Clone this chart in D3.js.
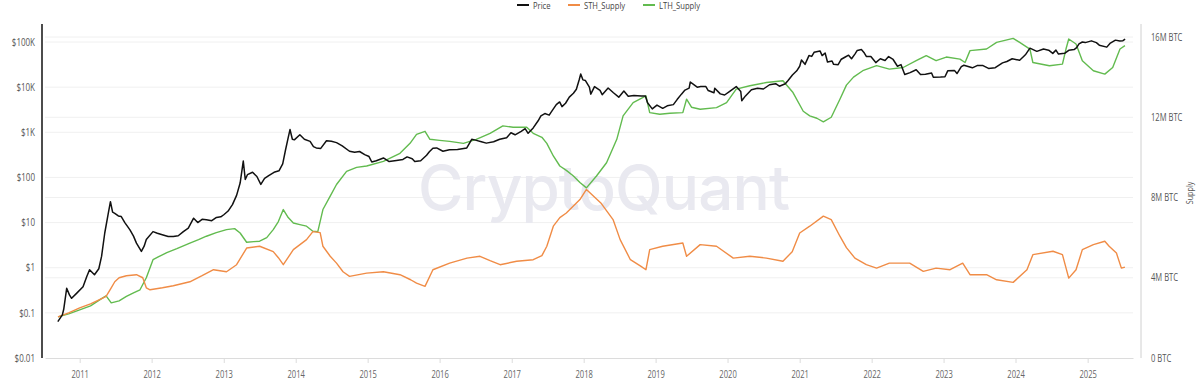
<!DOCTYPE html>
<html>
<head>
<meta charset="utf-8">
<script src="https://cdn.jsdelivr.net/npm/d3@7"></script>
<style>
  html, body { margin: 0; padding: 0; background: #fff; }
  svg { display: block; font-family: "Open Sans", "Noto Sans", sans-serif; }
</style>
</head>
<body>
<div id="chart"></div>
<script>
// --- data (price in USD, supply in millions of BTC) ---
const seriesNames = ["Price", "STH_Supply", "LTH_Supply"];
const seriesColors = ["#111111", "#f08c46", "#62bb4f"];

const yearTicks = [2011, 2012, 2013, 2014, 2015, 2016, 2017, 2018, 2019, 2020, 2021, 2022, 2023, 2024, 2025];
const priceTicks = [0.01, 0.1, 1, 10, 100, 1000, 10000, 100000];
const priceTickLabels = ["$0.01", "$0.1", "$1", "$10", "$100", "$1K", "$10K", "$100K"];
const supplyTicks = [0, 4, 8, 12, 16];
const supplyTickLabels = ["0 BTC", "4M BTC", "8M BTC", "12M BTC", "16M BTC"];

const price = [
  ["2010-09-12",0.064],["2010-10-05",0.09],["2010-10-12",0.12],["2010-10-27",0.35],["2010-11-10",0.25],
  ["2010-11-21",0.21],["2010-12-16",0.27],["2011-01-18",0.38],["2011-02-06",0.64],["2011-02-20",0.9],
  ["2011-03-17",0.7],["2011-04-08",0.95],["2011-04-22",1.78],["2011-05-08",5.8],["2011-05-26",16],
  ["2011-06-06",29],["2011-06-17",17],["2011-06-28",16],["2011-07-16",14],["2011-07-31",13.6],
  ["2011-08-18",10],["2011-09-13",6.9],["2011-10-01",5],["2011-10-16",3.5],["2011-11-10",2.3],
  ["2011-11-24",3],["2011-12-05",4.2],["2012-01-08",6.3],["2012-01-30",5.8],["2012-02-28",5.3],
  ["2012-03-25",4.9],["2012-04-20",4.9],["2012-05-15",5.1],["2012-06-10",6.3],["2012-07-05",7.5],
  ["2012-08-01",12.5],["2012-08-22",10],["2012-09-13",11.8],["2012-10-05",11.5],["2012-11-01",11],
  ["2012-11-25",13],["2012-12-17",13.4],["2013-01-01",14.9],["2013-01-23",18],["2013-02-14",25],
  ["2013-03-07",40],["2013-03-25",75],["2013-04-10",230],["2013-04-20",90],["2013-05-01",115],
  ["2013-05-27",130],["2013-06-18",105],["2013-07-08",70],["2013-07-27",95],["2013-08-17",110],
  ["2013-09-13",130],["2013-10-08",140],["2013-10-27",200],["2013-11-10",400],["2013-11-25",800],
  ["2013-12-03",1150],["2013-12-15",700],["2013-12-25",680],["2014-01-22",880],["2014-02-14",700],
  ["2014-03-15",630],["2014-04-01",480],["2014-04-15",450],["2014-05-08",440],["2014-06-06",650],
  ["2014-07-01",630],["2014-07-27",590],["2014-08-25",500],["2014-10-01",380],["2014-10-27",360],
  ["2014-11-21",375],["2014-12-17",320],["2015-01-08",290],["2015-01-22",220],["2015-02-14",235],
  ["2015-03-22",270],["2015-04-20",225],["2015-05-27",237],["2015-06-29",250],["2015-07-20",285],
  ["2015-08-15",260],["2015-08-28",225],["2015-09-27",235],["2015-10-27",310],["2015-11-10",370],
  ["2015-11-28",445],["2015-12-17",450],["2016-01-18",380],["2016-02-20",410],["2016-04-01",415],
  ["2016-05-18",450],["2016-06-12",700],["2016-07-01",670],["2016-07-31",620],["2016-08-25",575],
  ["2016-10-01",615],["2016-11-01",700],["2016-12-06",760],["2016-12-28",975],["2017-01-18",880],
  ["2017-02-18",1050],["2017-03-10",1200],["2017-03-25",950],["2017-04-20",1250],["2017-05-15",1800],
  ["2017-05-29",2300],["2017-06-18",2600],["2017-07-10",2400],["2017-07-20",2800],["2017-08-15",4100],
  ["2017-09-01",4700],["2017-09-13",3700],["2017-10-01",4400],["2017-10-20",6000],["2017-11-10",7300],
  ["2017-11-25",9000],["2017-12-10",15000],["2017-12-17",19500],["2017-12-28",14500],["2018-01-10",14000],
  ["2018-01-30",10000],["2018-02-06",7000],["2018-02-25",10300],["2018-03-25",8500],["2018-04-05",6800],
  ["2018-05-05",9600],["2018-06-01",7500],["2018-06-28",6000],["2018-07-24",8200],["2018-08-15",6300],
  ["2018-09-13",6500],["2018-10-20",6400],["2018-11-10",6350],["2018-11-21",4500],["2018-12-15",3300],
  ["2019-01-08",4000],["2019-02-06",3400],["2019-03-01",3850],["2019-04-01",4100],["2019-04-20",5300],
  ["2019-05-12",7000],["2019-05-30",8600],["2019-06-20",9500],["2019-06-26",13000],["2019-07-12",11500],
  ["2019-07-31",10000],["2019-08-18",10300],["2019-09-13",10300],["2019-09-25",8400],["2019-10-24",7500],
  ["2019-10-28",9500],["2019-11-25",7100],["2019-12-17",6700],["2020-01-12",8100],["2020-02-14",10300],
  ["2020-03-08",8000],["2020-03-13",5000],["2020-04-01",6400],["2020-05-01",8800],["2020-06-01",9500],
  ["2020-07-01",9100],["2020-08-01",11300],["2020-09-01",11900],["2020-09-20",10500],["2020-10-20",11900],
  ["2020-11-03",14000],["2020-11-25",18500],["2020-12-17",23000],["2021-01-01",29000],["2021-01-10",40000],
  ["2021-01-28",32000],["2021-02-17",50000],["2021-03-03",48000],["2021-03-15",59000],["2021-04-14",63500],
  ["2021-04-25",50000],["2021-05-10",57000],["2021-05-22",36000],["2021-06-14",38000],["2021-06-22",32000],
  ["2021-07-15",31500],["2021-07-31",41500],["2021-08-18",46000],["2021-09-06",51000],["2021-09-21",42500],
  ["2021-10-08",54000],["2021-10-20",65000],["2021-11-10",68000],["2021-11-25",57000],["2021-12-05",48000],
  ["2021-12-28",47500],["2022-01-22",35000],["2022-02-14",42500],["2022-03-10",39000],["2022-03-28",47500],
  ["2022-04-20",41000],["2022-05-12",29000],["2022-05-30",31500],["2022-06-18",19000],["2022-07-15",21000],
  ["2022-08-15",24300],["2022-09-06",19000],["2022-10-01",19300],["2022-11-01",20500],["2022-11-10",16500],
  ["2022-12-17",16700],["2023-01-08",17000],["2023-01-22",23000],["2023-02-25",23500],["2023-03-10",20000],
  ["2023-04-01",28500],["2023-04-14",30500],["2023-05-27",26800],["2023-06-20",30000],["2023-07-20",30000],
  ["2023-08-17",26000],["2023-09-20",27000],["2023-10-27",34500],["2023-11-18",37000],["2023-12-15",42500],
  ["2024-01-22",39500],["2024-02-20",52000],["2024-03-14",73000],["2024-04-18",62000],["2024-05-22",70000],
  ["2024-06-17",66000],["2024-07-08",56000],["2024-07-24",66000],["2024-08-06",54000],["2024-09-06",56000],
  ["2024-09-27",65500],["2024-10-24",68000],["2024-11-06",75000],["2024-11-18",91000],["2024-12-05",100000],
  ["2024-12-20",97000],["2025-01-20",106000],["2025-02-14",97000],["2025-03-01",85000],["2025-04-08",77000],
  ["2025-04-24",93000],["2025-05-22",110000],["2025-06-13",105000],["2025-06-29",107000],["2025-07-10",116000]
];

const sthSupply = [
  ["2010-09-13",2.05],["2010-11-06",2.25],["2011-01-01",2.5],["2011-02-25",2.7],["2011-04-20",2.95],
  ["2011-05-15",3.07],["2011-06-10",3.5],["2011-06-28",3.8],["2011-07-20",4.0],["2011-08-26",4.1],
  ["2011-10-16",4.15],["2011-11-17",4.0],["2011-12-05",3.5],["2011-12-24",3.4],["2012-02-25",3.5],
  ["2012-04-20",3.6],["2012-07-13",3.8],["2012-09-13",4.1],["2012-11-10",4.4],["2013-01-15",4.3],
  ["2013-03-07",4.65],["2013-04-27",5.48],["2013-07-02",5.57],["2013-09-09",5.3],["2013-10-05",5.0],
  ["2013-10-30",4.65],["2013-12-20",5.4],["2014-02-25",5.9],["2014-03-29",6.3],["2014-05-05",6.25],
  ["2014-05-19",5.57],["2014-06-25",5.07],["2014-07-27",4.73],["2014-08-29",4.3],["2014-10-01",4.07],
  ["2014-12-27",4.23],["2015-03-22",4.3],["2015-06-14",4.15],["2015-08-07",3.9],["2015-09-06",3.73],
  ["2015-10-19",3.57],["2015-11-28",4.4],["2016-02-21",4.73],["2016-05-19",4.98],["2016-07-24",5.07],
  ["2016-09-13",4.85],["2016-11-03",4.65],["2017-01-26",4.82],["2017-04-20",4.9],["2017-06-03",5.1],
  ["2017-06-28",5.57],["2017-07-31",6.57],["2017-09-02",7.0],["2017-10-05",7.23],["2017-12-13",7.9],
  ["2018-01-15",8.4],["2018-03-29",7.73],["2018-05-30",6.9],["2018-07-05",5.9],["2018-08-26",4.9],
  ["2018-10-19",4.57],["2018-11-13",4.4],["2018-12-02",5.4],["2019-02-06",5.57],["2019-05-19",5.73],
  ["2019-06-07",5.07],["2019-08-15",5.65],["2019-11-06",5.57],["2020-01-30",4.98],["2020-04-23",5.07],
  ["2020-07-16",4.98],["2020-10-08",4.82],["2020-11-24",5.3],["2021-01-01",6.23],["2021-02-21",6.57],
  ["2021-05-01",7.07],["2021-06-10",6.9],["2021-07-24",6.07],["2021-08-26",5.5],["2021-10-08",4.98],
  ["2021-12-05",4.65],["2022-01-26",4.48],["2022-04-01",4.73],["2022-07-13",4.73],["2022-09-20",4.32],
  ["2022-11-24",4.48],["2023-02-03",4.4],["2023-04-08",4.73],["2023-05-15",4.15],["2023-08-07",4.15],
  ["2023-09-27",3.9],["2023-12-20",3.77],["2024-02-28",4.4],["2024-03-29",5.15],["2024-07-09",5.32],
  ["2024-08-26",5.15],["2024-09-27",3.98],["2024-11-03",4.4],["2024-12-05",5.4],["2025-01-30",5.65],
  ["2025-03-29",5.82],["2025-04-20",5.57],["2025-05-27",5.23],["2025-06-21",4.48],["2025-07-09",4.53]
];

const lthSupply = [
  ["2010-09-13",2.05],["2010-11-06",2.2],["2011-01-01",2.4],["2011-02-25",2.6],["2011-04-20",2.95],
  ["2011-05-15",3.1],["2011-06-10",2.75],["2011-07-20",2.85],["2011-08-26",3.07],["2011-10-01",3.25],
  ["2011-11-03",3.4],["2011-12-05",4.0],["2012-01-08",4.9],["2012-02-06",5.05],["2012-03-18",5.25],
  ["2012-05-08",5.45],["2012-07-13",5.73],["2012-08-26",5.9],["2012-10-05",6.07],["2012-11-24",6.25],
  ["2013-01-15",6.4],["2013-02-25",6.45],["2013-03-25",6.23],["2013-04-27",5.77],["2013-06-03",5.8],
  ["2013-07-02",5.82],["2013-08-07",6.0],["2013-09-09",6.4],["2013-10-05",6.8],["2013-10-30",7.4],
  ["2013-11-24",7.0],["2013-12-20",6.73],["2014-01-22",6.65],["2014-02-25",6.57],["2014-03-29",6.32],
  ["2014-04-23",6.3],["2014-05-19",7.4],["2014-06-25",8.07],["2014-07-27",8.65],["2014-09-16",9.3],
  ["2014-11-06",9.5],["2014-12-27",9.57],["2015-03-22",9.8],["2015-06-14",10.2],["2015-08-04",10.7],
  ["2015-09-06",11.15],["2015-10-19",11.3],["2015-11-13",10.9],["2016-01-01",10.85],["2016-02-21",10.8],
  ["2016-05-01",10.7],["2016-07-05",10.9],["2016-09-13",11.2],["2016-11-17",11.57],["2017-01-08",11.5],
  ["2017-03-18",11.5],["2017-04-20",11.2],["2017-06-03",11.0],["2017-06-28",10.7],["2017-07-31",10.07],
  ["2017-09-02",9.57],["2017-10-05",9.35],["2017-11-10",9.07],["2017-12-13",8.75],["2018-01-15",8.48],
  ["2018-03-07",9.07],["2018-04-27",9.73],["2018-06-18",10.9],["2018-07-20",12.07],["2018-09-09",12.73],
  ["2018-11-13",13.07],["2018-12-02",12.23],["2019-01-22",12.15],["2019-03-14",12.2],["2019-05-19",12.23],
  ["2019-06-07",12.9],["2019-07-02",12.5],["2019-08-15",12.4],["2019-11-06",12.48],["2019-12-27",12.73],
  ["2020-02-14",13.4],["2020-04-23",13.57],["2020-07-16",13.73],["2020-10-08",13.82],["2020-11-28",13.23],
  ["2021-01-19",12.3],["2021-02-21",12.07],["2021-03-29",11.95],["2021-05-01",11.77],["2021-06-10",12.0],
  ["2021-07-24",12.9],["2021-08-26",13.6],["2021-10-01",14.0],["2021-11-17",14.32],["2022-01-26",14.57],
  ["2022-04-01",14.4],["2022-06-10",14.48],["2022-08-15",14.82],["2022-10-05",15.07],["2022-11-24",14.82],
  ["2023-01-15",15.0],["2023-03-25",14.9],["2023-04-20",14.73],["2023-05-15",15.32],["2023-08-07",15.4],
  ["2023-09-27",15.73],["2023-12-20",15.93],["2024-01-22",15.73],["2024-03-14",15.4],["2024-03-29",14.73],
  ["2024-06-21",14.57],["2024-08-26",14.65],["2024-09-13",15.4],["2024-09-27",15.9],["2024-11-03",15.65],
  ["2024-12-05",14.82],["2025-01-30",14.32],["2025-03-29",14.15],["2025-05-08",14.48],["2025-06-14",15.4],
  ["2025-07-09",15.57]
];

// --- layout ---
const width = 1200, height = 384;
const plotLeft = 45, plotRight = 1133, plotTop = 24, plotBottom = 358;
const parse = d3.timeParse("%Y-%m-%d");

// the reference type is narrow, so squeeze each label horizontally
function squeeze(sel, k) {
  sel.each(function() {
    const w = this.getComputedTextLength();
    d3.select(this).attr("textLength", w * k).attr("lengthAdjust", "spacingAndGlyphs");
  });
}

const svg = d3.select("#chart").append("svg")
  .attr("width", width)
  .attr("height", height);

const x = d3.scaleTime()
  .domain([parse("2010-07-09"), parse("2025-08-19")])
  .range([plotLeft, plotRight]);
const yPrice = d3.scaleLog().domain([0.01, 100000]).range([plotBottom, 42]);
const ySupply = d3.scaleLinear().domain([0, 16]).range([plotBottom, 37]);

// gridlines (both axes)
const grid = svg.append("g").attr("class", "grid");
grid.selectAll(".gp").data(priceTicks.slice(1)).enter().append("line")
  .attr("x1", plotLeft).attr("x2", plotRight)
  .attr("y1", d => yPrice(d)).attr("y2", d => yPrice(d))
  .attr("stroke", "#f0f0f0").attr("stroke-width", 1);
grid.selectAll(".gs").data(supplyTicks.slice(1)).enter().append("line")
  .attr("x1", plotLeft).attr("x2", plotRight)
  .attr("y1", d => ySupply(d)).attr("y2", d => ySupply(d))
  .attr("stroke", "#f0f0f0").attr("stroke-width", 1);

// watermark
svg.append("text")
  .attr("x", 604).attr("y", 210)
  .attr("text-anchor", "middle")
  .attr("font-family", "Inter, 'Open Sans', sans-serif")
  .attr("font-size", 62)
  .attr("font-weight", 500)
  .attr("fill", "#e9e9f0")
  .attr("textLength", 372)
  .text("CryptoQuant");

// x axis
const xAxis = d3.axisBottom(x)
  .tickValues(yearTicks.map(yr => new Date(yr, 0, 1)))
  .tickFormat(d3.timeFormat("%Y"))
  .tickSize(5)
  .tickSizeOuter(0);
const gx = svg.append("g").attr("transform", `translate(0,${plotBottom})`).call(xAxis);
gx.select(".domain").attr("stroke", "#dcdcdc");
gx.selectAll(".tick line").attr("stroke", "#dcdcdc");
gx.selectAll(".tick text").attr("fill", "#666").attr("font-size", 10).attr("dy", "1.15em")
  .attr("font-family", "'Open Sans', sans-serif")
  .call(squeeze, 0.76);

// left axis (price, log)
const yAxisL = d3.axisLeft(yPrice)
  .tickValues(priceTicks)
  .tickFormat((d, i) => priceTickLabels[i])
  .tickSize(0)
  .tickPadding(7);
const gl = svg.append("g").attr("transform", `translate(42,0)`).call(yAxisL);
gl.select(".domain").remove();
gl.append("line").attr("x1", 0).attr("x2", 0).attr("y1", plotTop).attr("y2", plotBottom)
  .attr("stroke", "#111").attr("stroke-width", 1.5);
gl.selectAll(".tick text").attr("fill", "#555").attr("font-size", 10)
  .attr("font-family", "'Open Sans', sans-serif")
  .call(squeeze, 0.8);

// right axis (supply)
const yAxisR = d3.axisRight(ySupply)
  .tickValues(supplyTicks)
  .tickFormat((d, i) => supplyTickLabels[i])
  .tickSize(0)
  .tickPadding(10);
const gr = svg.append("g").attr("transform", `translate(1141,0)`).call(yAxisR);
gr.select(".domain").remove();
gr.append("line").attr("x1", 0).attr("x2", 0).attr("y1", plotTop).attr("y2", plotBottom)
  .attr("stroke", "#d0d0d0").attr("stroke-width", 1);
gr.selectAll(".tick text").attr("fill", "#555").attr("font-size", 10)
  .attr("font-family", "'Open Sans', sans-serif")
  .call(squeeze, 0.76);

svg.append("text")
  .attr("transform", "translate(1190,193) rotate(-90)")
  .attr("text-anchor", "middle")
  .attr("dy", "0.35em")
  .attr("font-size", 9)
  .attr("fill", "#555")
  .text("Supply")
  .call(squeeze, 0.8);

// series lines
const supplyLine = d3.line()
  .x(d => x(parse(d[0])))
  .y(d => ySupply(d[1]));
const priceLine = d3.line()
  .x(d => x(parse(d[0])))
  .y(d => yPrice(d[1]));

svg.append("path").datum(lthSupply)
  .attr("fill", "none").attr("stroke", seriesColors[2]).attr("stroke-width", 1.4)
  .attr("stroke-linejoin", "round").attr("d", supplyLine);
svg.append("path").datum(sthSupply)
  .attr("fill", "none").attr("stroke", seriesColors[1]).attr("stroke-width", 1.4)
  .attr("stroke-linejoin", "round").attr("d", supplyLine);
svg.append("path").datum(price)
  .attr("fill", "none").attr("stroke", seriesColors[0]).attr("stroke-width", 1.5)
  .attr("stroke-linejoin", "round").attr("d", priceLine);

// legend
const legendX = [517, 568, 643];
const legend = svg.append("g").attr("class", "legend");
seriesNames.forEach((name, i) => {
  const g = legend.append("g").attr("transform", `translate(${legendX[i]},5)`);
  g.append("line").attr("x1", 0).attr("x2", 12).attr("y1", 0).attr("y2", 0)
    .attr("stroke", seriesColors[i]).attr("stroke-width", 2);
  g.append("text").attr("x", 16).attr("y", 4)
    .attr("font-size", 9.5).attr("fill", "#444")
    .text(name)
    .call(squeeze, 0.8);
});
</script>
</body>
</html>
